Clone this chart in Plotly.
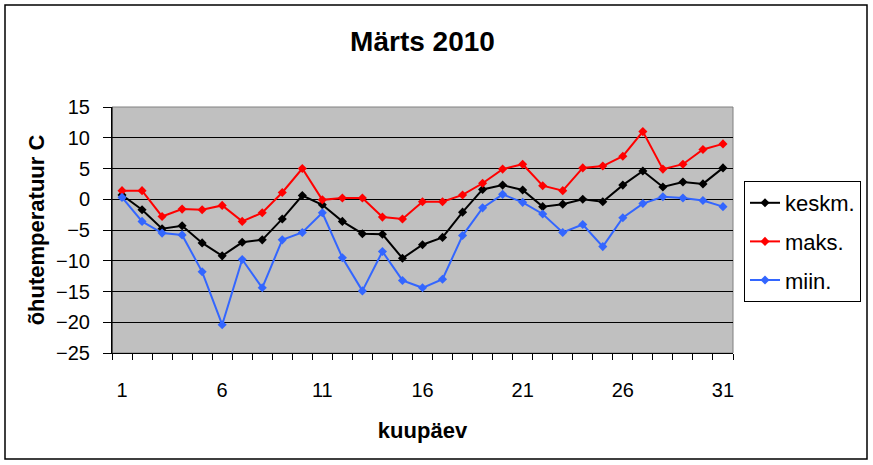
import plotly.graph_objects as go

# kuupäevad ja temperatuurid (loetud pildilt)
days = list(range(1, 32))
keskm = [0.7, -1.7, -4.8, -4.3, -7.1, -9.2, -7.0, -6.6, -3.2, 0.6,
         -0.9, -3.6, -5.6, -5.7, -9.6, -7.4, -6.2, -2.1, 1.6, 2.3,
         1.5, -1.2, -0.8, 0.0, -0.4, 2.3, 4.6, 2.0, 2.8, 2.5, 5.1]
maks = [1.4, 1.4, -2.8, -1.6, -1.7, -1.0, -3.6, -2.2, 1.1, 5.0,
        -0.1, 0.2, 0.2, -2.9, -3.2, -0.4, -0.4, 0.7, 2.6, 4.9,
        5.7, 2.2, 1.4, 5.1, 5.4, 7.0, 11.0, 4.9, 5.7, 8.1, 9.0]
miin = [0.3, -3.6, -5.5, -5.8, -11.8, -20.4, -9.8, -14.4, -6.6, -5.4,
        -2.2, -9.5, -14.9, -8.5, -13.2, -14.4, -13.0, -5.9, -1.4, 0.8,
        -0.5, -2.4, -5.4, -4.1, -7.7, -3.0, -0.7, 0.4, 0.2, -0.2, -1.2]
series_names = ["keskm.", "maks.", "miin."]
series_colors = ["#000000", "#FF0000", "#3366FF"]
x_ticks = [1, 6, 11, 16, 21, 26, 31]
y_ticks = [-25, -20, -15, -10, -5, 0, 5, 10, 15]

W, H = 873, 465
L, R, T, B = 112, 140, 107, 112
FONT = "Liberation Sans, Arial, sans-serif"


def px_x(p):
    return (p - L) / (W - L - R)


def px_y(p):
    return (H - B - p) / (H - T - B)


fig = go.Figure()
for i, (name, vals) in enumerate(zip(series_names, [keskm, maks, miin])):
    fig.add_trace(go.Scatter(
        x=days, y=vals, name=name, mode="lines+markers",
        line=dict(color=series_colors[i], width=2),
        marker=dict(symbol="diamond", size=7, color=series_colors[i]),
        legendgroup=name,
    ))

fig.update_layout(
    width=W, height=H,
    margin=dict(l=L, r=R, t=T, b=B),
    paper_bgcolor="white", plot_bgcolor="#C0C0C0",
    font=dict(family=FONT, color="black", size=20),
    title=dict(text="<b>Märts 2010</b>", x=0.5, xref="paper", xanchor="center",
               y=1 - 41 / H, yanchor="middle", font=dict(size=28)),
    showlegend=True,
    legend=dict(x=px_x(744), y=px_y(181), xanchor="left", yanchor="top",
                bgcolor="white", bordercolor="black", borderwidth=1,
                font=dict(size=22), tracegroupgap=7, itemwidth=30),
)

fig.update_xaxes(
    range=[0.5, 31.5], tickvals=x_ticks, ticks="", showgrid=False,
    zeroline=False, showline=True, linecolor="black", linewidth=1,
    ticklabelstandoff=19, tickfont=dict(size=20),
    minor=dict(tick0=0.5, dtick=1, ticks="outside", ticklen=6,
               tickcolor="black", showgrid=False),
    title=dict(text="<b>kuupäev</b>", font=dict(size=22), standoff=22),
)
fig.update_yaxes(
    range=[-25, 15], tickvals=y_ticks, ticks="outside", ticklen=8,
    tickcolor="black", showgrid=True, gridcolor="black", gridwidth=1,
    zeroline=False, showline=True, linecolor="black", linewidth=1,
    ticklabelstandoff=9, tickfont=dict(size=20),
    title=dict(text="<b>õhutemperatuur C</b>", font=dict(size=22), standoff=5),
)

# plot area gray frame (top/right) and outer chart border
fig.add_shape(type="rect", xref="paper", yref="paper", x0=0, x1=1, y0=0, y1=1,
              line=dict(color="#808080", width=1), layer="between")
fig.add_shape(type="line", xref="paper", yref="paper", x0=0, x1=0, y0=0, y1=1,
              line=dict(color="black", width=1), layer="between")
fig.add_shape(type="rect", xref="paper", yref="paper",
              x0=px_x(5), x1=px_x(867), y0=px_y(459), y1=px_y(5),
              line=dict(color="black", width=1.5))

# page has a default body margin; remove it so the chart sits at 0,0
fig.write_html("out.html", config={"displayModeBar": False},
               post_script="document.body.style.margin='0';")
